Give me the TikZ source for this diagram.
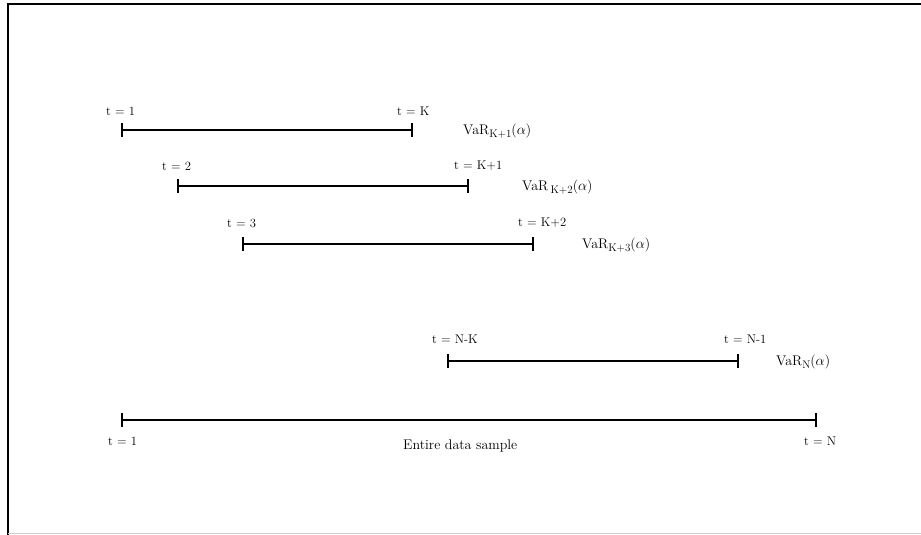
\documentclass[tikz,border=0pt]{standalone}
\usetikzlibrary{arrows.meta}
\newcommand{\subidx}[1]{\raisebox{-0.45ex}{\fontsize{11}{11}\selectfont #1}}
\begin{document}
\begin{tikzpicture}[x=1pt,y=-1pt,
  interval/.style={line width=1.6pt,{Bar[width=14pt,line width=1.6pt]}-{Bar[width=14pt,line width=1.6pt]}},
  tlabel/.style={anchor=west,inner sep=0pt,font=\fontsize{12.6}{14}\selectfont},
  varlabel/.style={anchor=west,inner sep=0pt,font=\fontsize{14}{16}\selectfont},
  frameline/.style={line width=1.6pt,black}]
\useasboundingbox (0,0) rectangle (921,535);
% frame
\draw[frameline] (8,535) -- (8,4) -- (921,4);
\draw[gray!40,line width=0.8pt] (8,533.5) -- (921,533.5);

% rolling estimation windows
\coordinate (a1) at (121,130); \coordinate (b1) at (413,130);
\coordinate (a2) at (177,186); \coordinate (b2) at (469,186);
\coordinate (a3) at (242,244); \coordinate (b3) at (534,244);
\coordinate (a4) at (447,361); \coordinate (b4) at (739,361);
\coordinate (a5) at (121,420); \coordinate (b5) at (817,420);

\draw[interval] (a1) -- (b1);
\draw[interval] (a2) -- (b2);
\draw[interval] (a3) -- (b3);
\draw[interval] (a4) -- (b4);
\draw[interval] (a5) -- (b5);

\node[tlabel] (la1) at ([xshift=-15pt,yshift=19pt]a1) {t = 1};
\node[tlabel] (lb1) at ([xshift=-16pt,yshift=19pt]b1) {t = K};
\node[tlabel] (la2) at ([xshift=-15pt,yshift=20pt]a2) {t = 2};
\node[tlabel] (lb2) at ([xshift=-15pt,yshift=20pt]b2) {t = K+1};
\node[tlabel] (la3) at ([xshift=-15pt,yshift=21pt]a3) {t = 3};
\node[tlabel] (lb3) at ([xshift=-16pt,yshift=21pt]b3) {t = K+2};
\node[tlabel] (la4) at ([xshift=-15pt,yshift=22pt]a4) {t = N-K};
\node[tlabel] (lb4) at ([xshift=-15pt,yshift=22pt]b4) {t = N-1};
\node[tlabel] (la5) at ([xshift=-13pt,yshift=-21pt]a5) {t = 1};
\node[tlabel] (lb5) at ([xshift=-13pt,yshift=-21pt]b5) {t = N};

\node[varlabel] (v1) at ([xshift=50pt,yshift=-1pt]b1) {VaR\subidx{K+1}($\alpha$)};
\node[varlabel] (v2) at ([xshift=53pt,yshift=-1pt]b2) {VaR\,\subidx{K+2}($\alpha$)};
\node[varlabel] (v3) at ([xshift=48pt,yshift=-1pt]b3) {VaR\subidx{K+3}($\alpha$)};
\node[varlabel] (v4) at ([xshift=37pt,yshift=-1pt]b4) {VaR\subidx{N}($\alpha$)};

\node[varlabel] (ent) at (403,446) {Entire data sample};
\end{tikzpicture}
\end{document}
